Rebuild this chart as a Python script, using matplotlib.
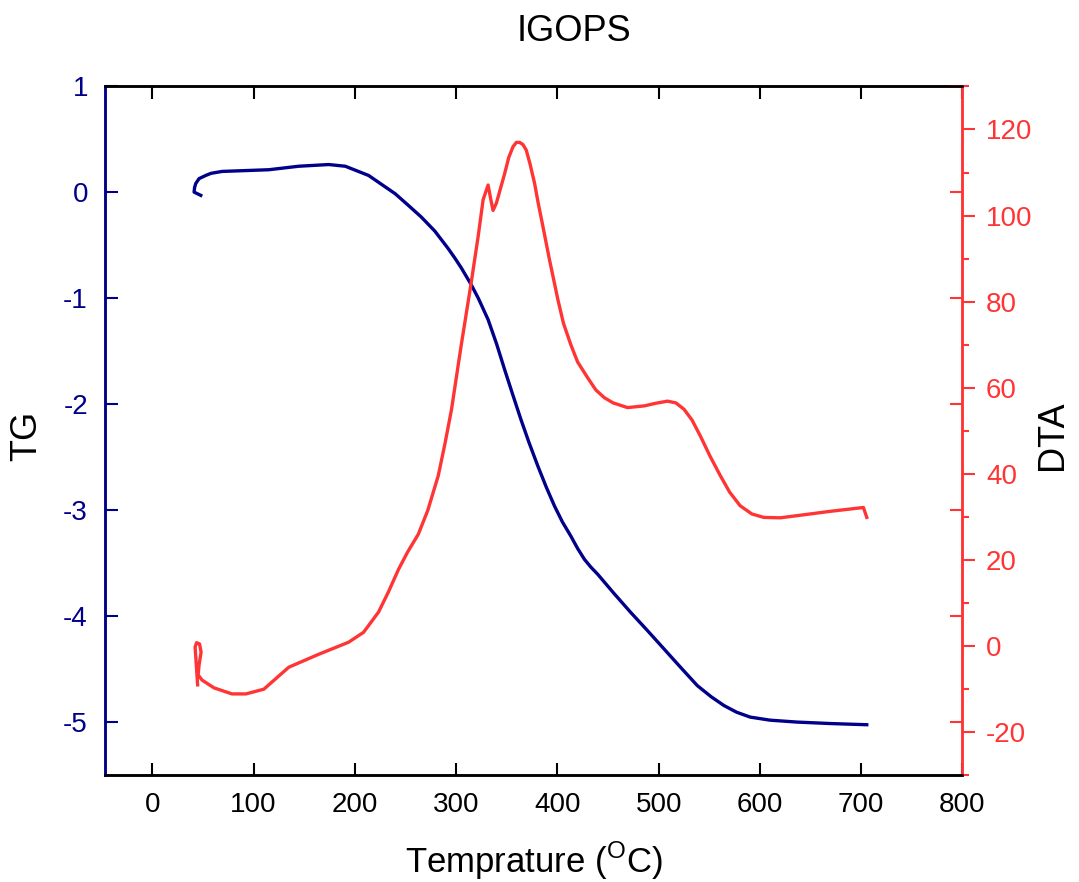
import matplotlib
matplotlib.use("Agg")
import matplotlib.pyplot as plt
from matplotlib.ticker import MultipleLocator

# TG curve (temperature in degC, TG)
tg_temp = [47.9, 41.3, 41.8, 43.0, 46.2, 52.8, 58.0, 68.9, 115.1, 144.6, 174.2,
           190.6, 213.6, 239.8, 252.0, 265.6, 279.0, 292.2, 298.8, 305.0, 314.9,
           322.0, 331.6, 340.0, 348.0, 356.0, 364.1, 372.0, 380.8, 389.0, 397.2,
           405.0, 413.3, 420.0, 426.7, 433.0, 439.8, 456.0, 472.3, 489.0, 505.5,
           522.0, 538.2, 552.0, 564.5, 577.0, 590.4, 610.0, 636.6, 670.0, 705.5]
tg_val = [-0.028, 0.003, 0.047, 0.085, 0.13, 0.16, 0.18, 0.198, 0.214, 0.247,
          0.263, 0.247, 0.16, -0.012, -0.115, -0.232, -0.365, -0.53, -0.62,
          -0.71, -0.87, -1.0, -1.2, -1.43, -1.674, -1.91, -2.145, -2.36,
          -2.584, -2.78, -2.96, -3.11, -3.243, -3.36, -3.462, -3.535, -3.603,
          -3.785, -3.962, -4.135, -4.31, -4.485, -4.654, -4.76, -4.842, -4.905,
          -4.951, -4.98, -4.998, -5.012, -5.023]

# DTA curve
dta_temp = [44.8, 43.3, 42.3, 43.8, 46.7, 48.2, 46.2, 45.3, 49.2, 61.0, 78.7,
            92.5, 110.2, 134.8, 164.3, 193.8, 208.6, 223.4, 233.0, 243.1, 252.0,
            262.7, 272.0, 282.4, 289.0, 295.5, 305.0, 314.9, 321.8, 326.7, 331.6,
            334.3, 336.5, 339.8, 348.0, 352.0, 356.2, 359.5, 362.8, 366.0, 369.3,
            373.0, 377.5, 381.0, 384.0, 387.4, 392.0, 400.5, 406.0, 413.3, 420.0,
            430.0, 438.0, 446.4, 455.0, 469.3, 485.8, 497.0, 508.7, 517.0, 525.1,
            533.0, 541.2, 551.0, 560.9, 570.0, 580.5, 592.0, 603.8, 620.0, 636.6,
            669.1, 702.2, 705.5]
dta_val = [-9.0, -3.7, -0.2, 0.8, 0.5, -1.4, -4.4, -6.7, -7.9, -9.7, -11.1,
           -11.1, -10.0, -4.9, -1.9, 0.9, 3.2, 7.9, 12.5, 17.8, 21.8,
           26.0, 31.5, 39.6, 47.0, 55.0, 69.8, 84.4, 95.2, 103.7, 107.1,
           103.7, 101.2, 102.9, 109.8, 113.5, 116.0, 117.0, 117.0, 116.5, 115.2,
           112.0, 107.5, 103.0, 99.5, 95.5, 90.0, 80.5, 75.0, 70.0, 66.0,
           62.3, 59.5, 57.7, 56.5, 55.4, 55.8, 56.4, 56.9, 56.5, 55.0,
           52.5, 48.8, 44.0, 39.6, 35.8, 32.6, 30.7, 29.9, 29.8, 30.3,
           31.3, 32.2, 29.9]

NAVY = "#00008b"
RED = "#ff3535"

plt.rcParams["font.family"] = "Liberation Sans"
plt.rcParams["mathtext.fontset"] = "custom"
plt.rcParams["mathtext.rm"] = "Liberation Sans"
plt.rcParams["axes.unicode_minus"] = False

fig = plt.figure(figsize=(10.79, 8.82), dpi=100)
ax1 = fig.add_axes([0.097, 0.121, 0.795, 0.781])

ax1.plot(tg_temp, tg_val, color=NAVY, lw=2.4)
ax1.set_xlim(-47, 800)
ax1.set_ylim(-5.5, 1)
ax1.xaxis.set_major_locator(MultipleLocator(100))
ax1.yaxis.set_major_locator(MultipleLocator(1))
ax1.tick_params(axis="x", which="major", direction="in", top=True, length=9,
                width=1.5, labelsize=20, pad=12, colors="black")
ax1.tick_params(axis="y", which="major", direction="in", left=True, right=False,
                length=9, width=1.5, labelsize=20, pad=12, colors=NAVY)

# mirrored inward ticks on the right spine
ax3 = ax1.twinx()
ax3.set_ylim(-5.5, 1)
ax3.yaxis.set_major_locator(MultipleLocator(1))
ax3.tick_params(axis="y", direction="in", length=9, width=1.5, colors=RED,
                labelright=False)
for s in ax3.spines.values():
    s.set_visible(False)

ax2 = ax1.twinx()
ax2.plot(dta_temp, dta_val, color=RED, lw=2.4)
ax2.set_ylim(-30, 130)
ax2.yaxis.set_major_locator(MultipleLocator(20))
ax2.yaxis.set_minor_locator(MultipleLocator(10))
ax2.tick_params(axis="y", which="major", direction="out", length=9, width=1.5,
                labelsize=20, pad=8, colors=RED)
ax2.tick_params(axis="y", which="minor", direction="out", length=5, width=1.5,
                colors=RED)

for ax in (ax1, ax2):
    ax.spines["top"].set_color("black")
    ax.spines["bottom"].set_color("black")
    ax.spines["left"].set_color(NAVY)
    ax.spines["right"].set_color(RED)
    for s in ax.spines.values():
        s.set_linewidth(1.8)

ax1.set_ylabel("TG", fontsize=26, color="black")
ax1.yaxis.set_label_coords(-0.07, 0.493)
ax2.set_ylabel("DTA", fontsize=26, color="black")
ax2.yaxis.set_label_coords(1.085, 0.493)
ax1.set_xlabel("Temprature ($^{\\mathrm{O}}$C)", fontsize=25)
ax1.xaxis.set_label_coords(0.5, -0.094)

fig.text(0.532, 0.964, "IGOPS", fontsize=26, ha="center", va="center")

fig.savefig("out.png", dpi=100)
